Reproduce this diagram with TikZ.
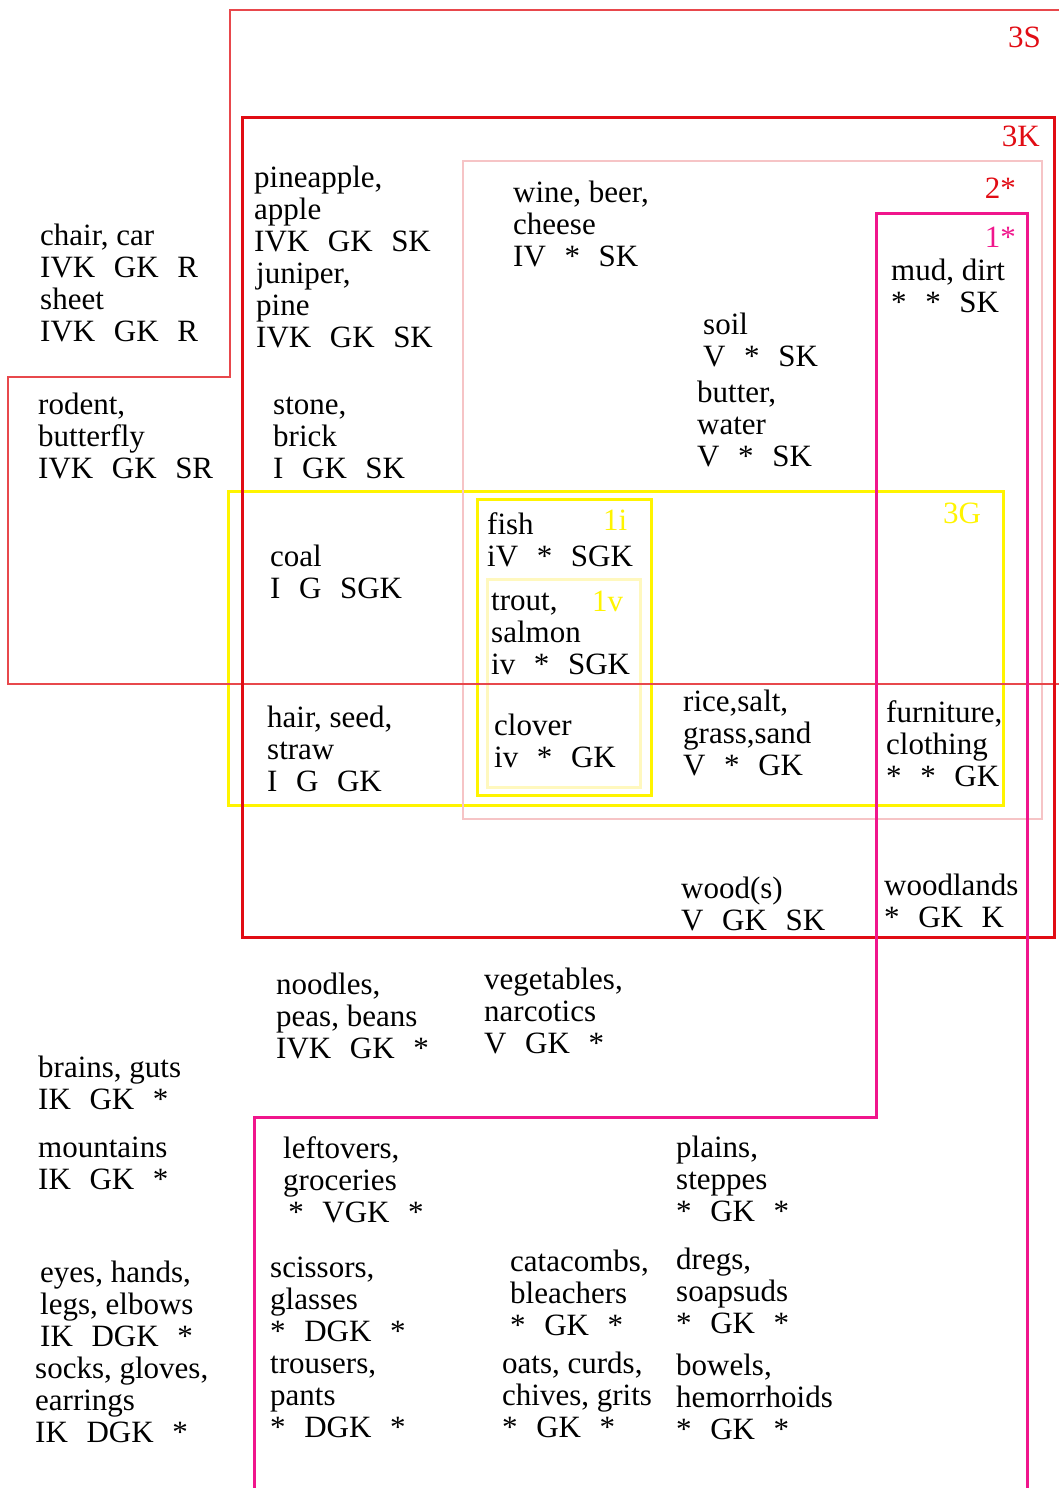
\documentclass[tikz,border=0pt]{standalone}
\usepackage{fontspec}
\setmainfont{Liberation Serif}
\usepackage{tikz}
\definecolor{setsLine}{RGB}{232,72,76}
\definecolor{setkRed}{RGB}{225,12,20}
\definecolor{twoPink}{RGB}{246,196,198}
\definecolor{oneMagenta}{RGB}{240,22,140}
\definecolor{gYellow}{RGB}{255,244,0}
\definecolor{vYellow}{RGB}{255,248,190}
\newcommand{\fgap}{\hspace{0.6em}}

\begin{document}
\begin{tikzpicture}[x=1pt, y=-1pt, line join=miter,
  item/.style={anchor=base west, align=left, inner sep=0pt, font=\fontsize{31}{32}\selectfont},
  tagE/.style={anchor=base east, inner sep=0pt, font=\fontsize{31}{32}\selectfont},
  tagW/.style={anchor=base west, inner sep=0pt, font=\fontsize{31}{32}\selectfont}]

	\useasboundingbox (0,0) rectangle (1059,1488);

	% yellow sets
	\draw[gYellow, line width=3pt] (228,491) rectangle (1003,805);
	\draw[gYellow, line width=3pt] (477,499) rectangle (651,795);
	\draw[vYellow, line width=3pt] (487,579) rectangle (640,787);

	% 2* box
	\draw[twoPink, line width=2.8pt] (463,161) rectangle (1042,819);

	% 3S outline
	\draw[setsLine, line width=2.8pt] (1059,10) -- (230,10) -- (230,377) -- (8,377) -- (8,684) -- (1059,684);

	% 3K box
	\draw[setkRed, line width=3pt] (242,117) rectangle (1054,937);

	% 1* outline
	\draw[oneMagenta, line width=3pt] (254,1488) -- (254,1117) -- (876,1117) -- (876,213) -- (1027,213) -- (1027,1488);

	% set names
	\node[tagE, setkRed] (nameS) at (1041,48) {3S};
	\node[tagE, setkRed] (nameK) at (1040,146) {3K};
	\node[tagE, setkRed] (nameTwo) at (1016,198) {2*};
	\node[tagE, oneMagenta] (nameOne) at (1016,247) {1*};
	\node[tagW, gYellow] (nameG) at (943,523) {3G};
	\node[tagW, gYellow] (nameI) at (603,530) {1i};
	\node[tagW, gYellow] (nameV) at (592,611) {1v};

	% words (placed at the baseline of their last line)
	\node[item] (chair) at (40,341) {chair, car\\IVK\fgap GK\fgap R\\sheet\\IVK\fgap GK\fgap R};
	\node[item] (rodent) at (38,478) {rodent,\\butterfly\\IVK\fgap GK\fgap SR};
	\node[item] (pineapple) at (254,251) {pineapple,\\apple\\IVK\fgap GK\fgap SK};
	\node[item] (juniper) at (256,347) {juniper,\\pine\\IVK\fgap GK\fgap SK};
	\node[item] (stone) at (273,478) {stone,\\brick\\I\fgap GK\fgap SK};
	\node[item] (wine) at (513,266) {wine, beer,\\cheese\\IV\fgap *\fgap SK};
	\node[item] (soil) at (703,366) {soil\\V\fgap *\fgap SK};
	\node[item] (butter) at (697,466) {butter,\\water\\V\fgap *\fgap SK};
	\node[item] (mud) at (891,312) {mud, dirt\\*\fgap *\fgap SK};
	\node[item] (coal) at (270,598) {coal\\I\fgap G\fgap SGK};
	\node[item] (fish) at (487,566) {fish\\iV\fgap *\fgap SGK};
	\node[item] (trout) at (491,674) {trout,\\salmon\\iv\fgap *\fgap SGK};
	\node[item] (hair) at (267,791) {hair, seed,\\straw\\I\fgap G\fgap GK};
	\node[item] (clover) at (494,767) {clover\\iv\fgap *\fgap GK};
	\node[item] (rice) at (683,775) {rice,salt,\\grass,sand\\V\fgap *\fgap GK};
	\node[item] (furniture) at (886,786) {furniture,\\clothing\\*\fgap *\fgap GK};
	\node[item] (wood) at (681,930) {wood(s)\\V\fgap GK\fgap SK};
	\node[item] (woodlands) at (884,927) {woodlands\\*\fgap GK\fgap K};
	\node[item] (noodles) at (276,1058) {noodles,\\peas, beans\\IVK\fgap GK\fgap *};
	\node[item] (vegetables) at (484,1053) {vegetables,\\narcotics\\V\fgap GK\fgap *};
	\node[item] (brains) at (38,1109) {brains, guts\\IK\fgap GK\fgap *};
	\node[item] (mountains) at (38,1189) {mountains\\IK\fgap GK\fgap *};
	\node[item] (eyes) at (40,1346) {eyes, hands,\\legs, elbows\\IK\fgap DGK\fgap *};
	\node[item] (socks) at (35,1442) {socks, gloves,\\earrings\\IK\fgap DGK\fgap *};
	\node[item] (leftovers) at (283,1222) {leftovers,\\groceries\\\,*\fgap VGK\fgap *};
	\node[item] (plains) at (676,1221) {plains,\\steppes\\*\fgap GK\fgap *};
	\node[item] (scissors) at (270,1341) {scissors,\\glasses\\*\fgap DGK\fgap *};
	\node[item] (catacombs) at (510,1335) {catacombs,\\bleachers\\*\fgap GK\fgap *};
	\node[item] (dregs) at (676,1333) {dregs,\\soapsuds\\*\fgap GK\fgap *};
	\node[item] (trousers) at (270,1437) {trousers,\\pants\\*\fgap DGK\fgap *};
	\node[item] (oats) at (502,1437) {oats, curds,\\chives, grits\\*\fgap GK\fgap *};
	\node[item] (bowels) at (676,1439) {bowels,\\hemorrhoids\\*\fgap GK\fgap *};

\end{tikzpicture}
\end{document}
